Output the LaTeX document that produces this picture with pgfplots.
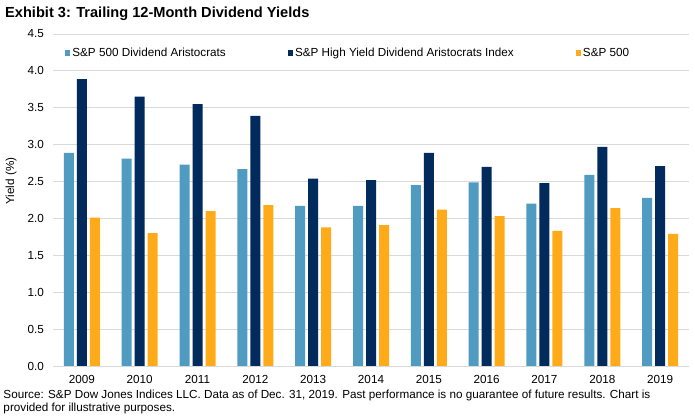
\documentclass[border=0pt]{standalone}
\usepackage{fontspec}
\setmainfont{Liberation Sans}
\usepackage{pgfplots}
\pgfplotsset{compat=1.18}

\definecolor{aristo}{HTML}{4F9BC1}
\definecolor{hyaristo}{HTML}{002B5C}
\definecolor{spx}{HTML}{FFAB19}
\definecolor{gridgray}{HTML}{D9D9D9}

\begin{document}
\begin{tikzpicture}
\fontsize{11.7bp}{13bp}\selectfont
\path[use as bounding box] (-53bp,-54bp) rectangle (642bp,366bp);
\begin{axis}[
    scale only axis,
    width=636bp, height=332bp,
    at={(0,0)}, anchor=south west,
    ybar=3bp, bar width=10bp,
    xmin=-0.5, xmax=10.5,
    ymin=0, ymax=4.5,
    xtick=data,
    xticklabels={2009,2010,2011,2012,2013,2014,2015,2016,2017,2018,2019},
    ytick={0,0.5,...,4.5},
    /pgf/number format/fixed,
    /pgf/number format/fixed zerofill,
    /pgf/number format/precision=1,
    /pgf/number format/assume math mode=true,
    yticklabel style={font=\fontsize{11.7bp}{13bp}\selectfont, xshift=-5bp},
    xticklabel style={font=\fontsize{11.7bp}{13bp}\selectfont, yshift=-5bp},
    axis line style={draw=none},
    major tick length=0pt,
    ymajorgrids=true,
    grid style={line width=0.8bp, draw=gridgray},
    legend columns=3,
    legend cell align=left,
    legend image code/.code={\fill[#1] (0bp,-2.6bp) rectangle (5.2bp,2.6bp);},
    legend style={at={(12bp,313bp)}, anchor=west, draw=none, fill=none,
        inner sep=0pt, font=\fontsize{11.7bp}{13bp}\selectfont,
        /tikz/every even column/.append style={column sep=60bp}},
]
\addplot[fill=aristo, draw=none] coordinates {
    (0,2.89) (1,2.81) (2,2.73) (3,2.67) (4,2.17) (5,2.17)
    (6,2.45) (7,2.49) (8,2.20) (9,2.59) (10,2.28)
};
\addlegendentry{S\&P 500 Dividend Aristocrats}
\addplot[fill=hyaristo, draw=none] coordinates {
    (0,3.89) (1,3.65) (2,3.55) (3,3.39) (4,2.54) (5,2.52)
    (6,2.89) (7,2.70) (8,2.48) (9,2.97) (10,2.71)
};
\addlegendentry{S\&P High Yield Dividend Aristocrats Index}
\addplot[fill=spx, draw=none] coordinates {
    (0,2.01) (1,1.80) (2,2.10) (3,2.18) (4,1.88) (5,1.91)
    (6,2.12) (7,2.03) (8,1.83) (9,2.14) (10,1.79)
};
\addlegendentry{S\&P 500}
\end{axis}
% title, axis label and source note
\node[anchor=base west, inner sep=0pt, font=\bfseries\fontsize{14.6bp}{16bp}\selectfont]
    at (-48bp,348.5bp) {Exhibit 3: Trailing 12-Month Dividend Yields};
\node[rotate=90, inner sep=0pt] at (-42bp,185bp) {Yield (\%)};
\node[anchor=base west, inner sep=0pt, align=left, font=\fontsize{11.7bp}{13bp}\selectfont]
    at (-49.7bp,-45bp) {Source: S\&P Dow Jones Indices LLC. Data as of Dec. 31, 2019. Past performance is no guarantee of future results. Chart is\\provided for illustrative purposes.};
\end{tikzpicture}
\end{document}
